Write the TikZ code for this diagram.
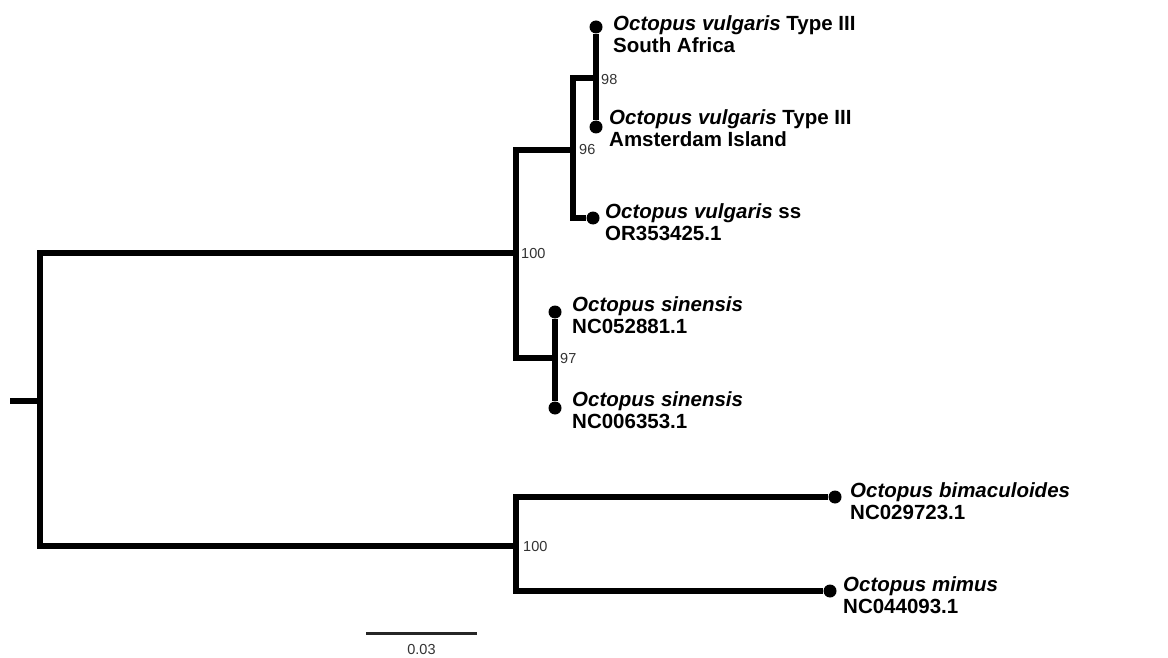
\documentclass[tikz,border=0pt]{standalone}
\usepackage{fontspec}
\setmainfont{Liberation Sans}
\usepackage{tikz}
\usetikzlibrary{positioning}

\begin{document}
\begin{tikzpicture}[
      x=1pt, y=-1pt,
      branch/.style={line width=5.5pt},
      tip/.style={circle, fill=black, inner sep=0pt, minimum size=13pt},
      taxon/.style={anchor=north west, align=left, inner sep=0pt, font=\fontsize{20.5}{22}\selectfont\bfseries},
      boot/.style={inner sep=0pt, text=black!80, font=\fontsize{14.5}{15}\selectfont}
    ]
      \useasboundingbox (0,0) rectangle (1168,658);

      % Tips
      \node[tip] (t1) at (596,27) {};
      \node[tip] (t2) at (596,127) {};
      \node[tip] (t3) at (593,218) {};
      \node[tip] (t4) at (555,312) {};
      \node[tip] (t5) at (555,408) {};
      \node[tip] (t6) at (835,497) {};
      \node[tip] (t7) at (830,591) {};

      % Inner nodes
      \coordinate (stem) at (10,401);
      \coordinate (root) at (40,401);
      \coordinate (a100) at (516,253);
      \coordinate (b100) at (516,546);
      \coordinate (n96) at (573,150);
      \coordinate (n98) at (596,78);
      \coordinate (n97) at (555,358);

      % Branches
      \draw[branch] (stem) -- (root);
      \draw[branch] (a100) -| (root) |- (b100);
      \draw[branch] (n96) -| (a100) |- (n97);
      \draw[branch] (n98) -| (n96) |- (t3);
      \draw[branch] (t1) -- (t2);
      \draw[branch] (t4) -- (t5);
      \draw[branch] (t6) -| (b100) |- (t7);

      % Bootstrap values
      \node[boot, right=5pt of n98, yshift=-2pt] (s98) {98};
      \node[boot, right=6pt of n96] (s96) {96};
      \node[boot, right=5pt of a100, yshift=-1pt] (sa100) {100};
      \node[boot, right=5pt of n97, yshift=-1pt] (s97) {97};
      \node[boot, right=7pt of b100, yshift=-1pt] (sb100) {100};

      % Taxon labels
      \node[taxon] (lab1) at (613,15) {\textit{Octopus vulgaris} Type III\\South Africa};
      \node[taxon] (lab2) at (609,109) {\textit{Octopus vulgaris} Type III\\Amsterdam Island};
      \node[taxon] (lab3) at (605,203) {\textit{Octopus vulgaris} ss\\OR353425.1};
      \node[taxon] (lab4) at (572,296) {\textit{Octopus sinensis}\\NC052881.1};
      \node[taxon] (lab5) at (572,391) {\textit{Octopus sinensis}\\NC006353.1};
      \node[taxon] (lab6) at (850,482) {\textit{Octopus bimaculoides}\\NC029723.1};
      \node[taxon] (lab7) at (843,576) {\textit{Octopus mimus}\\NC044093.1};

      % Scale bar
      \coordinate (sbl) at (366,633);
      \coordinate (sbr) at (477,633);
      \draw[line width=3pt, black!85] (sbl) -- (sbr) node[boot, midway, below=10pt] (sbtext) {0.03};
    \end{tikzpicture}
\end{document}
